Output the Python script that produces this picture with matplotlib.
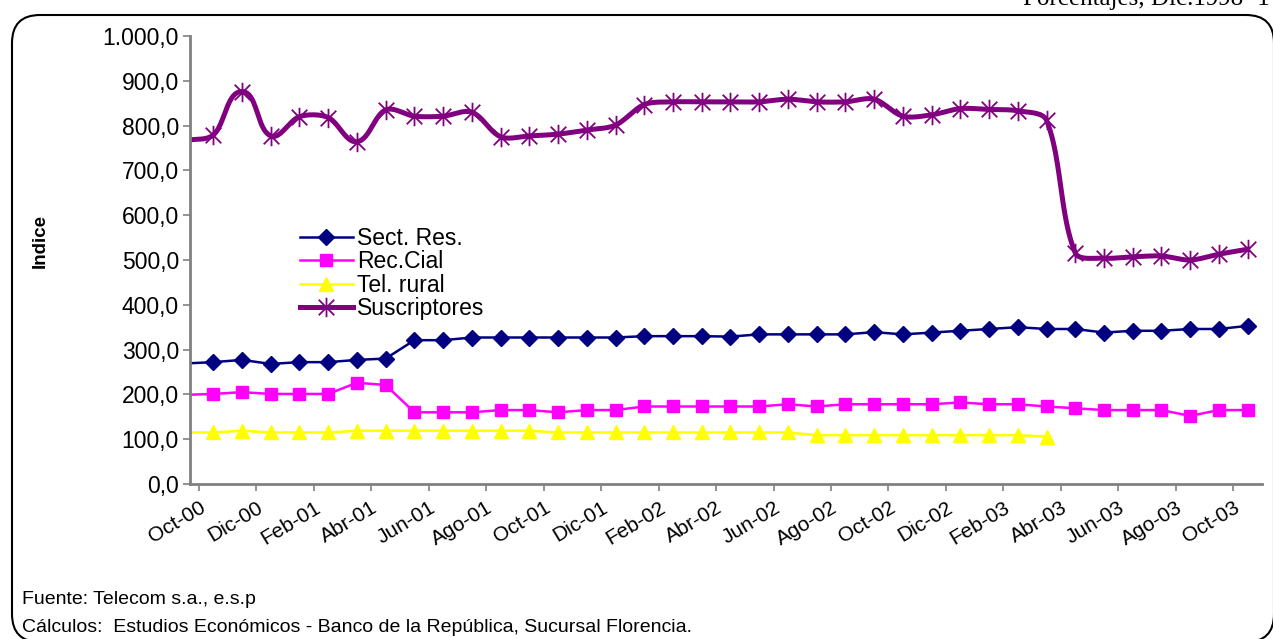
import numpy as np
import matplotlib
matplotlib.use("Agg")
import matplotlib.pyplot as plt
from matplotlib.path import Path
from matplotlib.patches import FancyBboxPatch

plt.rcParams['font.family'] = ['Liberation Sans', 'DejaVu Sans']

# monthly series, Sep-00 .. Oct-03
months = ["Sep-00", "Oct-00", "Nov-00", "Dic-00", "Ene-01", "Feb-01", "Mar-01", "Abr-01",
          "May-01", "Jun-01", "Jul-01", "Ago-01", "Sep-01", "Oct-01", "Nov-01", "Dic-01",
          "Ene-02", "Feb-02", "Mar-02", "Abr-02", "May-02", "Jun-02", "Jul-02", "Ago-02",
          "Sep-02", "Oct-02", "Nov-02", "Dic-02", "Ene-03", "Feb-03", "Mar-03", "Abr-03",
          "May-03", "Jun-03", "Jul-03", "Ago-03", "Sep-03", "Oct-03"]

sect_res = [269, 272, 277, 268, 272, 272, 277, 280, 321, 321, 327, 327, 327, 327, 327,
            327, 330, 330, 330, 329, 334, 334, 334, 334, 339, 334, 338, 342, 346, 350,
            346, 346, 338, 342, 342, 346, 346, 353]
rec_cial = [199, 201, 205, 201, 201, 201, 226, 221, 160, 160, 160, 165, 165, 160, 165,
            165, 173, 173, 173, 173, 173, 178, 173, 178, 178, 178, 178, 182, 178, 178,
            173, 169, 165, 165, 165, 152, 165, 165]
tel_rural = [115, 115, 119, 115, 115, 115, 119, 119, 119, 119, 119, 119, 119, 115, 115,
             115, 115, 115, 115, 115, 115, 115, 109, 109, 109, 109, 109, 109, 109, 109,
             106, None, None, None, None, None, None, None]
suscriptores = [767, 779, 876, 777, 820, 818, 764, 835, 821, 821, 830, 775, 777, 781, 790,
                801, 847, 853, 853, 853, 853, 859, 853, 853, 859, 821, 824, 838, 836, 833,
                812, 516, 504, 507, 509, 500, 513, 524]

tick_labels = ["Oct-00", "Dic-00", "Feb-01", "Abr-01", "Jun-01", "Ago-01", "Oct-01",
               "Dic-01", "Feb-02", "Abr-02", "Jun-02", "Ago-02", "Oct-02", "Dic-02",
               "Feb-03", "Abr-03", "Jun-03", "Ago-03", "Oct-03"]


def smooth_line(x, y, sx=28.7, sy=0.448, k=0.3, n=24):
    # excel-like smoothing: bezier per segment, handles scaled by adjacent segment length
    P = np.column_stack([np.asarray(x, float) * sx, np.asarray(y, float) * sy])
    m = len(P)
    out = [P[0]]
    t = np.linspace(0, 1, n)[1:, None]
    for i in range(m - 1):
        p0 = P[max(i - 1, 0)]
        p1, p2 = P[i], P[i + 1]
        p3 = P[min(i + 2, m - 1)]
        seg = np.linalg.norm(p2 - p1)
        d1 = p2 - p0
        d2 = p3 - p1
        d1 = d1 / (np.linalg.norm(d1) or 1)
        d2 = d2 / (np.linalg.norm(d2) or 1)
        c1 = p1 + d1 * seg * k
        c2 = p2 - d2 * seg * k
        pts = ((1 - t) ** 3 * p1 + 3 * (1 - t) ** 2 * t * c1
               + 3 * (1 - t) * t ** 2 * c2 + t ** 3 * p2)
        out.extend(pts)
    out = np.array(out)
    return out[:, 0] / sx, out[:, 1] / sy


# excel style asterisk: vertical bar plus an X
star = Path([(0, -1), (0, 1), (-0.8, -0.8), (0.8, 0.8), (-0.8, 0.8), (0.8, -0.8)],
            [Path.MOVETO, Path.LINETO, Path.MOVETO, Path.LINETO, Path.MOVETO, Path.LINETO])

x = np.arange(len(months)) - 0.5  # mid-month positions, Oct-00 starts at 0
shown = slice(1, None)  # Sep-00 lies left of the axis: line only, no marker

fig = plt.figure(figsize=(12.73, 6.39), dpi=100)
ax = fig.add_axes([190 / 1273, 1 - 484 / 639, (1262 - 190) / 1273, (484 - 36) / 639])

tr = np.array([np.nan if v is None else v for v in tel_rural], float)

ax.plot(x, sect_res, color='#000080', lw=1.8, marker='D', ms=8, markevery=shown,
        label='Sect. Res.')
ax.plot(x, rec_cial, color='#FF00FF', lw=1.8, marker='s', ms=8.5, markevery=shown,
        label='Rec.Cial')
ax.plot(x, tr, color='#FFFF00', lw=1.8, marker='^', ms=10, markevery=shown,
        label='Tel. rural')
sx, sy = smooth_line(x, suscriptores)
ax.plot(sx, sy, color='#800080', lw=3.6)
ax.plot(x[shown], suscriptores[1:], ls='none', marker=star, ms=14, mew=1.3,
        mec='#800080', mfc='none')
# legend proxy for the smoothed series
ax.plot([], [], color='#800080', lw=3.6, marker=star, ms=14, mew=1.3, mec='#800080',
        label='Suscriptores')

ax.set_xlim(-0.31, 37.0)
ax.set_ylim(0, 1000)
yt = np.arange(0, 1001, 100)
ax.set_yticks(yt)
ax.set_yticklabels([f"{v:,.1f}".replace(",", "X").replace(".", ",").replace("X", ".")
                    for v in yt], fontsize=16.5)
ax.set_xticks(np.arange(0, 37, 2))
ax.set_xticklabels(tick_labels, rotation=31, ha='right', va='top',
                   rotation_mode='anchor', fontsize=15)

for s in ['top', 'right']:
    ax.spines[s].set_visible(False)
for s in ['left', 'bottom']:
    ax.spines[s].set_color('#808080')
    ax.spines[s].set_linewidth(2)
ax.tick_params(axis='both', direction='out', color='#808080', width=1.2, length=5)
ax.tick_params(axis='y', pad=3)
ax.tick_params(axis='x', pad=5)

ax.set_ylabel('Indice', fontsize=13.5, fontweight='bold')
ax.yaxis.set_label_coords(-0.132, 0.542)

ax.legend(loc='upper left', bbox_to_anchor=(0.092, 0.6), frameon=False, fontsize=16.5,
          handlelength=2.3, handletextpad=0.2, labelspacing=0.02, borderpad=0)

fig.text(22 / 1273, 1 - 600 / 639, "Fuente: Telecom s.a., e.s.p", fontsize=14,
         va='center', ha='left')
fig.text(22 / 1273, 1 - 627 / 639,
         "Cálculos:  Estudios Económicos - Banco de la República, Sucursal Florencia.",
         fontsize=14, va='center', ha='left')
fig.text(1270 / 1273, 1 - 5 / 639, "Porcentajes, Dic.1998=1", fontsize=18,
         family='Liberation Serif', ha='right', va='baseline')

box = FancyBboxPatch((12 / 1273, -3 / 639), (1274 - 12) / 1273, (642 - 15) / 639,
                     boxstyle="round,pad=0,rounding_size=0.022", transform=fig.transFigure,
                     fill=False, ec='black', lw=1.5, mutation_aspect=1273 / 639)
fig.patches.append(box)

fig.savefig("out.png", dpi=100)
